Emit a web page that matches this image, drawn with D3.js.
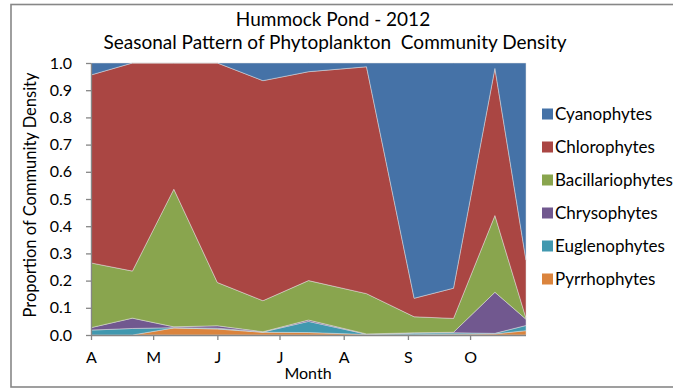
<!DOCTYPE html>
<html>
<head>
<meta charset="utf-8">
<script src="https://cdn.jsdelivr.net/npm/d3@7"></script>
<style>
  html, body { margin: 0; padding: 0; background: #fff; }
  svg { display: block; font-family: Lato, "Open Sans", sans-serif; }
</style>
</head>
<body>
<svg id="chart" width="673" height="388"></svg>
<script>
// Sampling dates (2012 season)
const sampleDates = ["2012-04-01","2012-04-21","2012-05-11","2012-06-01","2012-06-23",
                     "2012-07-15","2012-08-12","2012-09-04","2012-09-23","2012-10-13","2012-10-28"];

// Proportion of community density per group (bottom of stack first)
const pyrrhophytes     = [0.000, 0.000, 0.026, 0.022, 0.010, 0.009, 0.002, 0.001, 0.003, 0.004, 0.016];
const euglenophytes    = [0.018, 0.024, 0.001, 0.003, 0.001, 0.041, 0.001, 0.006, 0.005, 0.002, 0.019];
const chrysophytes     = [0.009, 0.038, 0.003, 0.009, 0.001, 0.005, 0.001, 0.001, 0.002, 0.151, 0.023];
const bacillariophytes = [0.238, 0.173, 0.506, 0.159, 0.114, 0.145, 0.148, 0.059, 0.051, 0.282, 0.004];
const chlorophytes     = [0.691, 0.765, 0.464, 0.807, 0.809, 0.768, 0.834, 0.068, 0.111, 0.541, 0.213];
const cyanophytes      = [0.044, 0.000, 0.000, 0.000, 0.065, 0.032, 0.014, 0.865, 0.828, 0.020, 0.725];

const seriesNames = ["Cyanophytes","Chlorophytes","Bacillariophytes","Chrysophytes","Euglenophytes","Pyrrhophytes"];
const seriesColors = ["#4572A7","#AA4643","#89A54E","#71588F","#4198AF","#DB843D"];

// Month ticks and their labels
const monthTicks = ["2012-04-01","2012-05-01","2012-06-01","2012-07-01","2012-08-01","2012-09-01","2012-10-01"];
const monthLabels = ["A","M","J","J","A","S","O"];
const yTicks = [0,0.1,0.2,0.3,0.4,0.5,0.6,0.7,0.8,0.9,1.0];

const parse = d3.utcParse("%Y-%m-%d");
const seriesValues = {
  "Cyanophytes": cyanophytes, "Chlorophytes": chlorophytes, "Bacillariophytes": bacillariophytes,
  "Chrysophytes": chrysophytes, "Euglenophytes": euglenophytes, "Pyrrhophytes": pyrrhophytes
};
const rows = sampleDates.map((d, i) => {
  const r = { date: parse(d) };
  seriesNames.forEach(n => r[n] = seriesValues[n][i]);
  return r;
});

const svg = d3.select("#chart");
const plotLeft = 91, plotRight = 526, plotTop = 63, plotBottom = 335;

// Outer chart frame
svg.append("rect")
  .attr("x", 11).attr("y", 4.5).attr("width", 700).attr("height", 382.5)
  .attr("fill", "none").attr("stroke", "#878787").attr("stroke-width", 1.6);

const x = d3.scaleUtc()
  .domain([parse(sampleDates[0]), parse(sampleDates[sampleDates.length - 1])])
  .range([plotLeft, plotRight]);
const y = d3.scaleLinear().domain([0, 1]).range([plotBottom, plotTop]);

const stackKeys = seriesNames.slice().reverse();
const stacked = d3.stack().keys(stackKeys)(rows);
const color = d3.scaleOrdinal().domain(seriesNames).range(seriesColors);

const area = d3.area()
  .x(d => x(d.data.date))
  .y0(d => y(d[0]))
  .y1(d => y(d[1]));

svg.append("g").selectAll("path")
  .data(stacked)
  .join("path")
  .attr("d", area)
  .attr("fill", d => color(d.key))
  .attr("stroke", "rgba(225,225,225,0.7)")
  .attr("stroke-width", 0.7);

// Axes
const axisColor = "#868686";
const yAxis = svg.append("g")
  .attr("transform", `translate(${plotLeft},0)`)
  .call(d3.axisLeft(y).tickValues(yTicks).tickFormat(d3.format(".1f")).tickSize(5).tickSizeOuter(0).tickPadding(14));
const xAxis = svg.append("g")
  .attr("transform", `translate(0,${plotBottom})`)
  .call(d3.axisBottom(x).tickValues(monthTicks.map(parse))
        .tickFormat((d, i) => monthLabels[i]).tickSize(5).tickSizeOuter(0).tickPadding(12));
[yAxis, xAxis].forEach(g => {
  g.select(".domain").attr("stroke", axisColor).attr("stroke-width", 1.3);
  g.selectAll(".tick line").attr("stroke", axisColor).attr("stroke-width", 1.3);
  g.selectAll("text").attr("fill", "#000").style("font-size", "16px").style("font-family", "Lato, sans-serif");
});
xAxis.select(".domain").attr("d", `M${plotLeft},0.5H${plotRight}`);

// Titles
svg.append("text").attr("x", 333).attr("y", 25.5).attr("text-anchor", "middle")
  .style("font-size", "19px").text("Hummock Pond - 2012");
svg.append("text").attr("x", 335).attr("y", 49).attr("text-anchor", "middle")
  .style("font-size", "19px")
  .text("Seasonal Pattern of Phytoplankton\u00a0 Community Density");
svg.append("text").attr("x", 308).attr("y", 379).attr("text-anchor", "middle")
  .style("font-size", "16px").text("Month");
svg.append("text").attr("transform", "translate(36,195) rotate(-90)").attr("text-anchor", "middle")
  .style("font-size", "16.5px").text("Proportion of Community Density");

// Legend
const legend = svg.append("g").selectAll("g")
  .data(seriesNames)
  .join("g")
  .attr("transform", (d, i) => `translate(542,${114 + i * 33})`);
legend.append("rect").attr("x", 0).attr("y", -5.5).attr("width", 11).attr("height", 11)
  .attr("fill", d => color(d));
legend.append("text").attr("x", 13).attr("y", 6)
  .style("font-size", "17px").text(d => d);
</script>
</body>
</html>
